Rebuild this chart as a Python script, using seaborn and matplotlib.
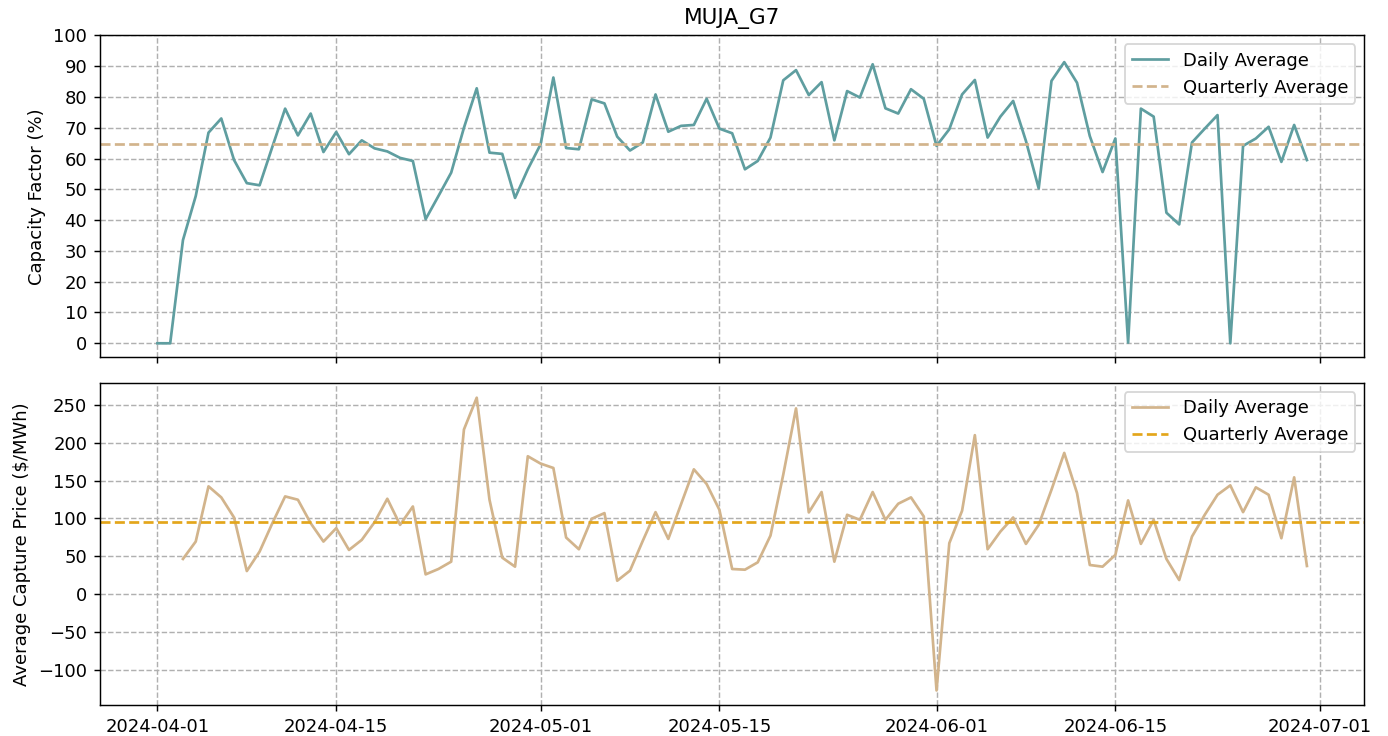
import numpy as np
import pandas as pd
import matplotlib
matplotlib.use('Agg')
import matplotlib.pyplot as plt
import seaborn as sns

# daily values, 2024-04-01 .. 2024-06-30
dates = pd.date_range('2024-04-01', '2024-06-30', freq='D')

capacity_factor = [
    0.0, 0.0, 33.5, 47.8, 68.4, 73.0, 59.5, 52.0, 51.3, 63.8,
    76.2, 67.5, 74.6, 62.1, 68.6, 61.4, 65.9, 63.3, 62.3, 60.2,
    59.2, 40.3, 47.8, 55.4, 70.0, 82.8, 61.9, 61.5, 47.2, 56.5,
    64.6, 86.3, 63.4, 63.0, 79.2, 77.9, 67.1, 62.6, 65.2, 80.8,
    68.7, 70.6, 70.9, 79.4, 69.7, 68.2, 56.5, 59.2, 66.8, 85.4,
    88.7, 80.6, 84.8, 65.9, 81.9, 79.8, 90.6, 76.3, 74.6, 82.5,
    79.4, 64.1, 69.5, 80.8, 85.5, 66.8, 73.6, 78.7, 65.7, 50.3,
    85.2, 91.3, 84.6, 67.3, 55.6, 66.5, 0.2, 76.2, 73.6, 42.4,
    38.6, 65.2, 69.7, 74.1, 0.0, 64.1, 66.5, 70.3, 58.9, 70.9,
    59.5,
]

capture_price = [
    np.nan, np.nan, 46.5, 69.5, 142.5, 127.9, 101.3, 30.5, 56.2, 93.8,
    129.2, 124.8, 93.8, 69.5, 87.2, 58.4, 71.7, 95.1, 126.1, 91.6,
    115.9, 26.1, 33.2, 42.9, 217.7, 259.7, 124.8, 48.2, 36.3, 182.3,
    172.6, 166.8, 74.8, 59.3, 99.6, 107.1, 17.7, 31.0, 70.4, 108.4,
    73.0, 119.0, 165.0, 145.6, 111.5, 33.2, 32.3, 42.0, 77.4, 158.0,
    245.6, 108.0, 135.0, 42.9, 104.9, 98.2, 135.0, 98.2, 119.5, 127.9,
    102.7, -127.4, 67.3, 110.2, 210.2, 59.3, 82.7, 101.3, 66.4, 91.6,
    138.0, 186.7, 133.6, 38.5, 36.3, 51.8, 123.9, 66.4, 98.2, 46.5,
    18.6, 76.1, 104.9, 131.4, 143.8, 108.4, 141.2, 131.4, 73.9, 154.4,
    37.2,
]

cf_quarterly = 64.7
price_quarterly = 96.0

df = pd.DataFrame({'date': dates, 'cf': capacity_factor, 'price': capture_price})

fig, (ax1, ax2) = plt.subplots(2, 1, figsize=(1388 / 130, 736 / 130), dpi=130, sharex=True)

# capacity factor
sns.lineplot(data=df, x='date', y='cf', ax=ax1, color='cadetblue', label='Daily Average')
ax1.axhline(cf_quarterly, color='tan', linestyle='--', label='Quarterly Average')
ax1.set_ylim(-4.56, 100)
ax1.set_yticks(np.arange(0, 101, 10))
ax1.set_title('MUJA_G7')
ax1.set_xlabel('')
ax1.set_ylabel('Capacity Factor (%)')
ax1.grid(True, linestyle='--', color='#b0b0b0')
ax1.legend(loc='upper right')

# capture price
sns.lineplot(data=df, x='date', y='price', ax=ax2, color='tan', label='Daily Average')
ax2.axhline(price_quarterly, color='#e3a61b', linestyle='--', label='Quarterly Average')
ax2.set_yticks(np.arange(-100, 251, 50))
ax2.set_xlabel('')
ax2.set_ylabel('Average Capture Price ($/MWh)')
ax2.grid(True, linestyle='--', color='#b0b0b0')
ax2.legend(loc='upper right')

plt.subplots_adjust(left=0.072, right=0.983, top=0.952, bottom=0.042, hspace=0.08)
plt.savefig('out.png')
